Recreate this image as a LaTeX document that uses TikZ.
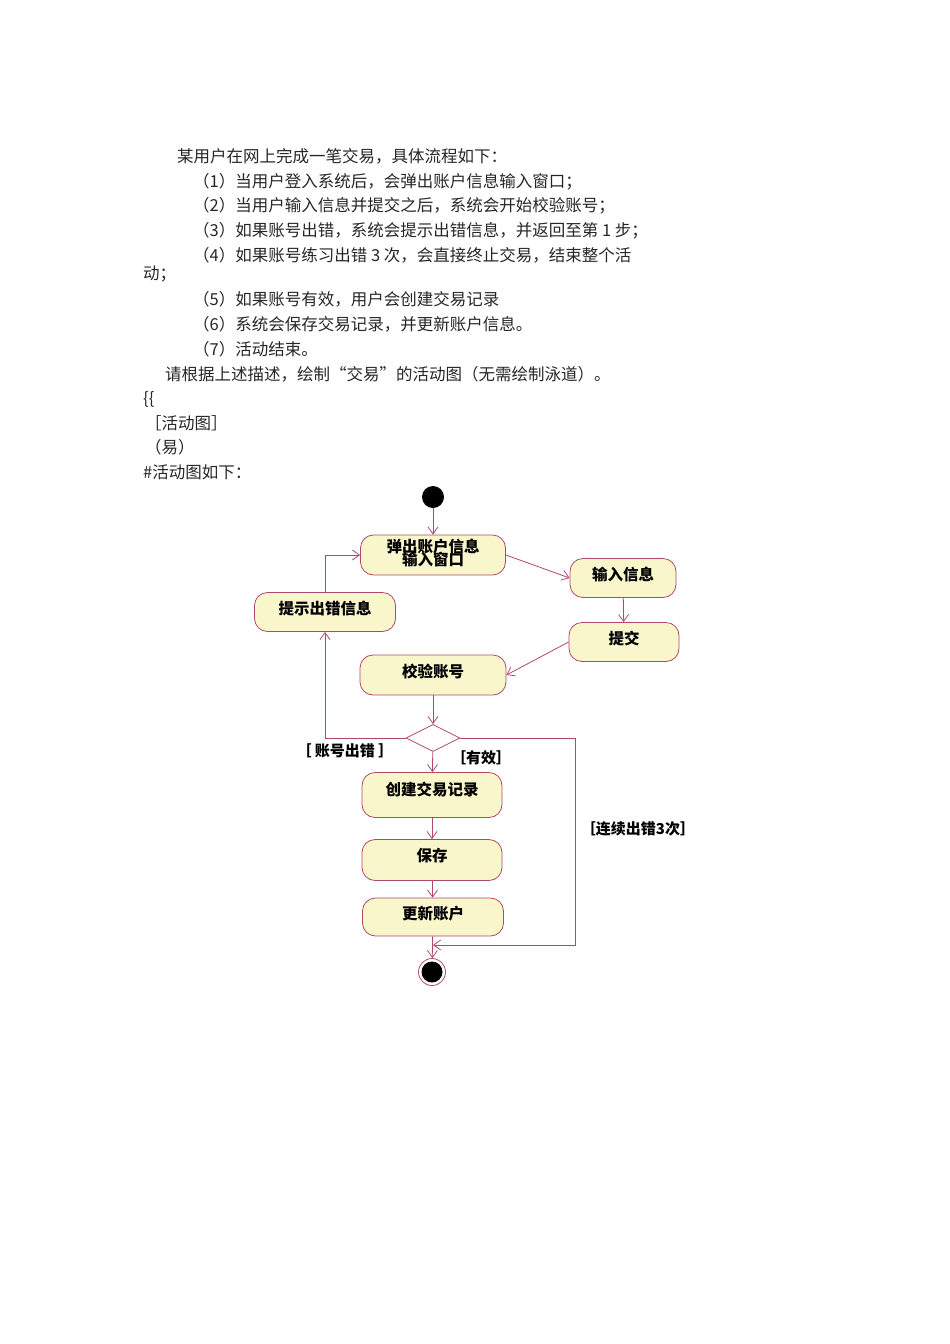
\documentclass[tikz,border=0pt]{standalone}
\usepackage{fontspec}
\setmainfont{Noto Sans CJK SC}
\usetikzlibrary{arrows.meta,shapes.geometric}
\definecolor{edge}{HTML}{B0486E}
\definecolor{actfill}{HTML}{FAF6CC}
\begin{document}
\begin{tikzpicture}[x=1pt,y=-1pt,
  txt/.style={anchor=base west,inner sep=0,font=\fontsize{16.5}{18}\selectfont\color{black!85}},
  act/.style={draw=edge,fill=actfill,rounded corners=13pt,line width=0.8pt,font=\fontsize{15.5}{17}\selectfont\bfseries,align=center,inner sep=0},
  flow/.style={draw=edge,line width=0.8pt,-{Straight Barb[length=7pt,width=10pt]}},
  guard/.style={font=\fontsize{15}{16}\selectfont\bfseries,inner sep=0}]
\useasboundingbox (0,0) rectangle (950,1344);
\node[txt] (t0) at (177,162) {某用户在网上完成一笔交易，具体流程如下：};
\node[txt] (t1) at (193,187) {（1）当用户登入系统后，会弹出账户信息输入窗口；};
\node[txt] (t2) at (193,211) {（2）当用户输入信息并提交之后，系统会开始校验账号；};
\node[txt] (t3) at (193,236) {（3）如果账号出错，系统会提示出错信息，并返回至第 1 步；};
\node[txt] (t4) at (193,261) {（4）如果账号练习出错 3 次，会直接终止交易，结束整个活};
\node[txt] (t5) at (143,279) {动；};
\node[txt] (t6) at (193,305) {（5）如果账号有效，用户会创建交易记录};
\node[txt] (t7) at (193,330) {（6）系统会保存交易记录，并更新账户信息。};
\node[txt] (t8) at (193,355) {（7）活动结束。};
\node[txt] (t9) at (165,380) {请根据上述描述，绘制“交易”的活动图（无需绘制泳道）。};
\node[txt] (t10) at (143,404) {\{\{};
\node[txt] (t11) at (145,429) {［活动图］};
\node[txt] (t12) at (145,453) {（易）};
\node[txt] (t13) at (143,478) {\#活动图如下：};

\node[circle,fill=black,minimum size=22pt,inner sep=0] (start) at (433,497) {};
\node[act,minimum width=145pt,minimum height=40pt] (pop) at (433,555) {\raisebox{2pt}{\begin{tabular}{@{}c@{}}弹出账户信息\\[-5pt]输入窗口\end{tabular}}};
\node[act,minimum width=106pt,minimum height=39pt] (input) at (623,578) {\raisebox{9pt}{输入信息}};
\node[act,minimum width=141pt,minimum height=39pt] (hint) at (325,612) {\raisebox{9pt}{提示出错信息}};
\node[act,minimum width=110pt,minimum height=39pt] (submit) at (624,642) {\raisebox{9pt}{提交}};
\node[act,minimum width=146pt,minimum height=40pt] (check) at (433,675) {\raisebox{9pt}{校验账号}};
\node[diamond,draw=edge,fill=white,line width=0.8pt,minimum width=54pt,minimum height=27pt,inner sep=0] (dec) at (433,738) {};
\node[act,minimum width=140pt,minimum height=45pt] (create) at (432,795) {\raisebox{12pt}{创建交易记录}};
\node[act,minimum width=140pt,minimum height=41pt] (save) at (432,860) {\raisebox{10pt}{保存}};
\node[act,minimum width=141pt,minimum height=38pt] (upd) at (433,917) {\raisebox{9pt}{更新账户}};
\node[circle,draw=edge,line width=0.8pt,minimum size=27pt,inner sep=0] (end) at (432,972) {};
\node[circle,fill=black,minimum size=21pt,inner sep=0] (endin) at (432,972) {};

\draw[flow] (start) -- (pop);
\draw[flow] (pop.east) -- (input.west);
\draw[flow] (input) -- (submit);
\draw[flow] (submit.west) -- (check.east);
\draw[flow] (check) -- (dec);
\draw[flow] (dec) -- (create);
\draw[flow] (create) -- (save);
\draw[flow] (save) -- (upd);
\draw[flow] (upd) -- (end);
\draw[flow] (dec.west) -| (hint.south);
\draw[flow] (hint.north) |- (pop.west);
\coordinate (m) at (433,945);
\draw[flow] (dec.east) -- (575,738) -- (575,945) -- (m);

\node[guard] (g1) at (345,751) {［ 账号出错 ］};
\node[guard] (g2) at (481,758) {［有效］};
\node[guard] (g3) at (638,829) {［连续出错3次］};
\end{tikzpicture}
\end{document}
